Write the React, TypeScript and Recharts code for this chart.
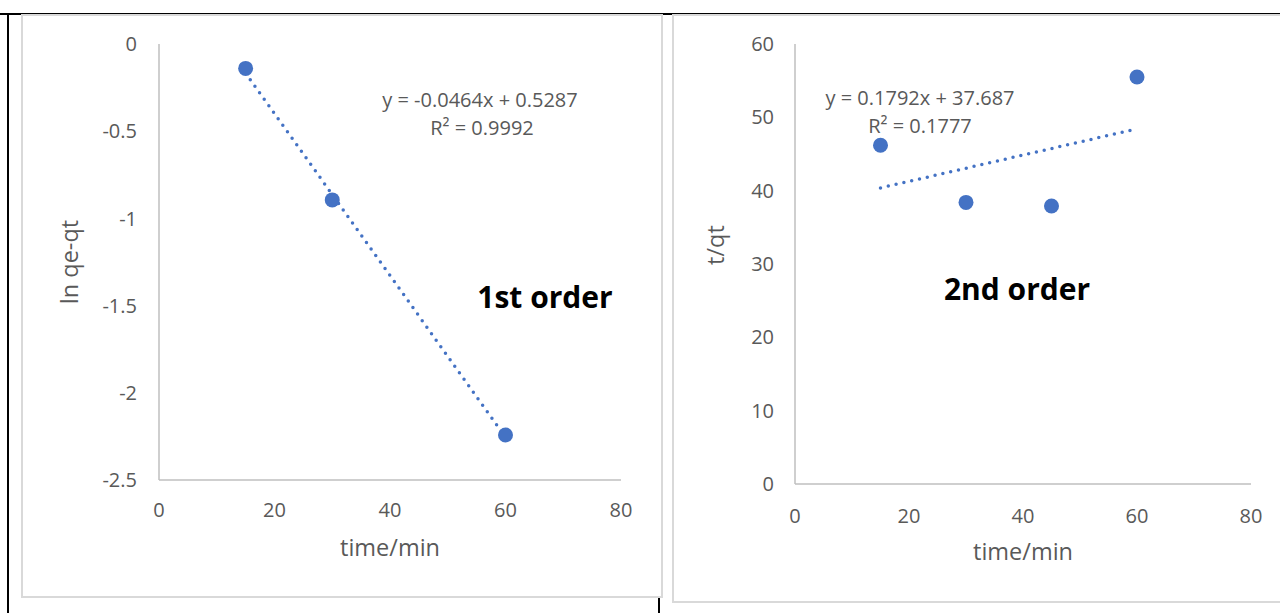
import React from 'react'
import { ScatterChart, Scatter, XAxis, YAxis, ReferenceLine } from 'recharts'

// 1st order: ln(qe-qt) vs time
const firstTime = [15, 30, 60]
const firstLnQ = [-0.14, -0.894, -2.242]
const firstSlope = -0.0464
const firstIntercept = 0.5287
const firstYTicks = [0, -0.5, -1, -1.5, -2, -2.5]

// 2nd order: t/qt vs time
const secondTime = [15, 30, 45, 60]
const secondTq = [46.2, 38.4, 37.9, 55.5]
const secondSlope = 0.1792
const secondIntercept = 37.687
const secondYTicks = [0, 10, 20, 30, 40, 50, 60]

const xTicks = [0, 20, 40, 60, 80]

const BLUE = '#4472C4'
const AXIS = '#bfbfbf'
const TEXT = '#595959'
const FONT = '"Open Sans", sans-serif'

const firstData = firstTime.map((t, i) => ({ x: t, y: firstLnQ[i] }))
const secondData = secondTime.map((t, i) => ({ x: t, y: secondTq[i] }))

const fit = (xs: number[], m: number, b: number) => {
  const lo = Math.min(...xs)
  const hi = Math.max(...xs)
  return [{ x: lo, y: m * lo + b }, { x: hi, y: m * hi + b }]
}

const dot = (p: any) => <circle cx={p.cx} cy={p.cy} r={7.5} fill={BLUE} />

const tick = { fill: TEXT, fontSize: 20, fontFamily: FONT }

function Txt({ x, y, children, size = 20, bold = false, color = TEXT, rotate = false }: any) {
  return (
    <div style={{
      position: 'absolute', left: x, top: y, whiteSpace: 'nowrap', lineHeight: 1,
      transform: `translate(-50%, -50%)${rotate ? ' rotate(-90deg)' : ''}`,
      fontFamily: FONT, fontSize: size, fontWeight: bold ? 700 : 400, color,
    }}>{children}</div>
  )
}

export default function App() {
  return (
    <div style={{ position: 'absolute', left: 0, top: 0, width: 1280, height: 613, background: '#fff', overflow: 'hidden' }}>
      {/* page frame */}
      <div style={{ position: 'absolute', left: 0, top: 13, width: 1280, height: 2, background: '#000' }} />
      <div style={{ position: 'absolute', left: 7, top: 13, width: 2, height: 600, background: '#000' }} />
      <div style={{ position: 'absolute', left: 658, top: 597, width: 2, height: 16, background: '#000' }} />

      {/* chart boxes */}
      <div style={{ position: 'absolute', left: 21, top: 14, width: 638, height: 580, border: '2px solid #d9d9d9' }} />
      <div style={{ position: 'absolute', left: 672, top: 14, width: 620, height: 585, border: '2px solid #d9d9d9' }} />

      <div style={{ position: 'absolute', left: 0, top: 0 }}>
        <ScatterChart width={663} height={598} margin={{ top: 44, right: 42, bottom: 58, left: 59 }}>
          <XAxis type="number" dataKey="x" domain={[0, 80]} ticks={xTicks} height={60}
            axisLine={{ stroke: AXIS, strokeWidth: 1.5 }} tickLine={false} tickSize={0} tickMargin={23} tick={tick} />
          <YAxis type="number" dataKey="y" domain={[-2.5, 0]} ticks={firstYTicks} width={100}
            axisLine={{ stroke: AXIS, strokeWidth: 1.5 }} tickLine={false} tickSize={0} tickMargin={22} tick={tick} />
          <ReferenceLine segment={fit(firstTime, firstSlope, firstIntercept)} stroke={BLUE}
            strokeWidth={3.5} strokeDasharray="0 8" strokeLinecap="round" ifOverflow="visible" />
          <Scatter data={firstData} shape={dot} isAnimationActive={false} />
        </ScatterChart>
      </div>

      <div style={{ position: 'absolute', left: 672, top: 0 }}>
        <ScatterChart width={608} height={613} margin={{ top: 44, right: 29, bottom: 69, left: 23 }}>
          <XAxis type="number" dataKey="x" domain={[0, 80]} ticks={xTicks} height={60}
            axisLine={{ stroke: AXIS, strokeWidth: 1.5 }} tickLine={false} tickSize={0} tickMargin={25} tick={tick} />
          <YAxis type="number" dataKey="y" domain={[0, 60]} ticks={secondYTicks} width={100}
            axisLine={{ stroke: AXIS, strokeWidth: 1.5 }} tickLine={false} tickSize={0} tickMargin={21} tick={tick} />
          <ReferenceLine segment={fit(secondTime, secondSlope, secondIntercept)} stroke={BLUE}
            strokeWidth={3.5} strokeDasharray="0 8" strokeLinecap="round" ifOverflow="visible" />
          <Scatter data={secondData} shape={dot} isAnimationActive={false} />
        </ScatterChart>
      </div>

      {/* left texts */}
      <Txt x={70} y={262} size={23.5} rotate>ln qe-qt</Txt>
      <Txt x={390} y={548} size={23.5}>time/min</Txt>
      <Txt x={480} y={100}>y = -0.0464x + 0.5287</Txt>
      <Txt x={482} y={128}>R² = 0.9992</Txt>
      <Txt x={545} y={297} size={30} bold color="#000">1st order</Txt>

      {/* right texts */}
      <Txt x={716} y={245} size={23.5} rotate>t/qt</Txt>
      <Txt x={1023} y={552} size={23.5}>time/min</Txt>
      <Txt x={920} y={98}>y = 0.1792x + 37.687</Txt>
      <Txt x={920} y={126}>R² = 0.1777</Txt>
      <Txt x={1017} y={289} size={30} bold color="#000">2nd order</Txt>
    </div>
  )
}
